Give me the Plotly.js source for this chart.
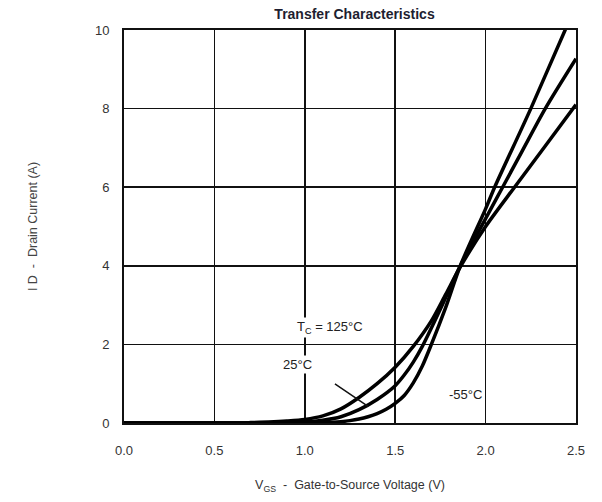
<!DOCTYPE html>
<html>
<head>
<meta charset="utf-8">
<script src="https://cdn.plot.ly/plotly-3.0.1.min.js"></script>
<style>html,body{margin:0;padding:0;background:#fff;}#chart{width:602px;height:502px;}</style>
</head>
<body>
<div id="chart"></div>
<script>
// Gate-to-source voltage (V) and drain current (A)
const vgs125 = [0.0, 0.6, 0.7, 0.8, 0.9, 1.0, 1.1, 1.2, 1.3, 1.4, 1.5, 1.6, 1.7, 1.78, 1.86, 2.0, 2.16, 2.33, 2.5];
const id125  = [0.0, 0.0, 0.01, 0.025, 0.05, 0.09, 0.18, 0.36, 0.65, 1.0, 1.42, 1.95, 2.6, 3.28, 3.97, 5.0, 6.0, 7.05, 8.1];

const vgs25 = [0.0, 0.8, 0.9, 1.0, 1.1, 1.2, 1.3, 1.4, 1.5, 1.55, 1.6, 1.65, 1.75, 1.86, 2.0, 2.1, 2.2, 2.33, 2.5];
const id25  = [0.0, 0.0, 0.01, 0.025, 0.07, 0.16, 0.34, 0.6, 0.95, 1.22, 1.55, 1.95, 2.9, 4.0, 5.2, 6.05, 6.9, 8.0, 9.27];

const vgsm55 = [0.0, 1.0, 1.1, 1.2, 1.25, 1.3, 1.35, 1.4, 1.45, 1.5, 1.55, 1.6, 1.65, 1.7, 1.78, 1.86, 2.0, 2.05, 2.25, 2.44, 2.5];
const idm55  = [0.0, 0.0, 0.01, 0.035, 0.06, 0.1, 0.16, 0.24, 0.35, 0.5, 0.7, 1.02, 1.45, 2.0, 2.95, 4.0, 5.45, 6.0, 8.0, 10.0, 10.6];

const xTickVals = [0, 0.5, 1.0, 1.5, 2.0, 2.5];
const xTickText = ["0.0", "0.5", "1.0", "1.5", "2.0", "2.5"];
const yTickVals = [0, 2, 4, 6, 8, 10];
const yTickText = ["0", "2", "4", "6", "8", "10"];

const lineStyle = {color: "#000", width: 3.5, shape: "spline", smoothing: 0.8};
const traces = [
  {x: vgs125, y: id125, mode: "lines", line: lineStyle, name: "125°C", hoverinfo: "skip"},
  {x: vgs25, y: id25, mode: "lines", line: lineStyle, name: "25°C", hoverinfo: "skip"},
  {x: vgsm55, y: idm55, mode: "lines", line: lineStyle, name: "-55°C", hoverinfo: "skip"}
];

const FONT = "Liberation Sans, Arial, sans-serif";
const tickFont = {family: FONT, size: 13, color: "#333"};
const layout = {
  width: 602, height: 502,
  margin: {l: 124, r: 26, t: 30, b: 79},
  paper_bgcolor: "#fff", plot_bgcolor: "#fff",
  showlegend: false,
  title: {text: "<b>Transfer Characteristics</b>", font: {family: FONT, size: 14, color: "#1e1e30"},
          x: 0.51, xanchor: "center", y: 0.972, yanchor: "middle", xref: "paper", yref: "container"},
  xaxis: {
    range: [0, 2.5], tickvals: xTickVals, ticktext: xTickText,
    showgrid: true, gridcolor: "#111", gridwidth: 1.5,
    showline: true, linecolor: "#111", linewidth: 2, mirror: true,
    zeroline: false, ticks: "", ticklabelstandoff: 14,
    tickfont: tickFont,
    title: {text: "V<sub>GS</sub>  -  Gate-to-Source Voltage (V)", font: {family: FONT, size: 12.5, color: "#333"}, standoff: 24}
  },
  yaxis: {
    range: [0, 10], tickvals: yTickVals, ticktext: yTickText,
    showgrid: true, gridcolor: "#111", gridwidth: 1.5,
    showline: true, linecolor: "#111", linewidth: 2, mirror: true,
    zeroline: false, ticks: "", ticklabelstandoff: 10,
    tickfont: tickFont,
    title: {text: "I D  -  Drain Current (A)", font: {family: FONT, size: 12.5, color: "#444"}, standoff: 55}
  },
  annotations: [
    {x: 1.14, y: 2.42, xref: "x", yref: "y", text: "T<sub>C</sub> = 125°C", showarrow: false, bgcolor: "#fff",
     font: {family: FONT, size: 13, color: "#222"}},
    {x: 0.96, y: 1.5, xref: "x", yref: "y", text: "25°C", showarrow: false, bgcolor: "#fff",
     font: {family: FONT, size: 13, color: "#222"}},
    {x: 1.35, y: 0.42, xref: "x", yref: "y", ax: 1.15, ay: 1.05, axref: "x", ayref: "y", text: " ",
     showarrow: true, arrowhead: 0, arrowwidth: 1.5, arrowcolor: "#111"},
    {x: 1.89, y: 0.72, xref: "x", yref: "y", text: "-55°C", showarrow: false, bgcolor: "#fff",
     font: {family: FONT, size: 13, color: "#222"}}
  ]
};

Plotly.newPlot("chart", traces, layout, {displayModeBar: false, staticPlot: true});
</script>
</body>
</html>
